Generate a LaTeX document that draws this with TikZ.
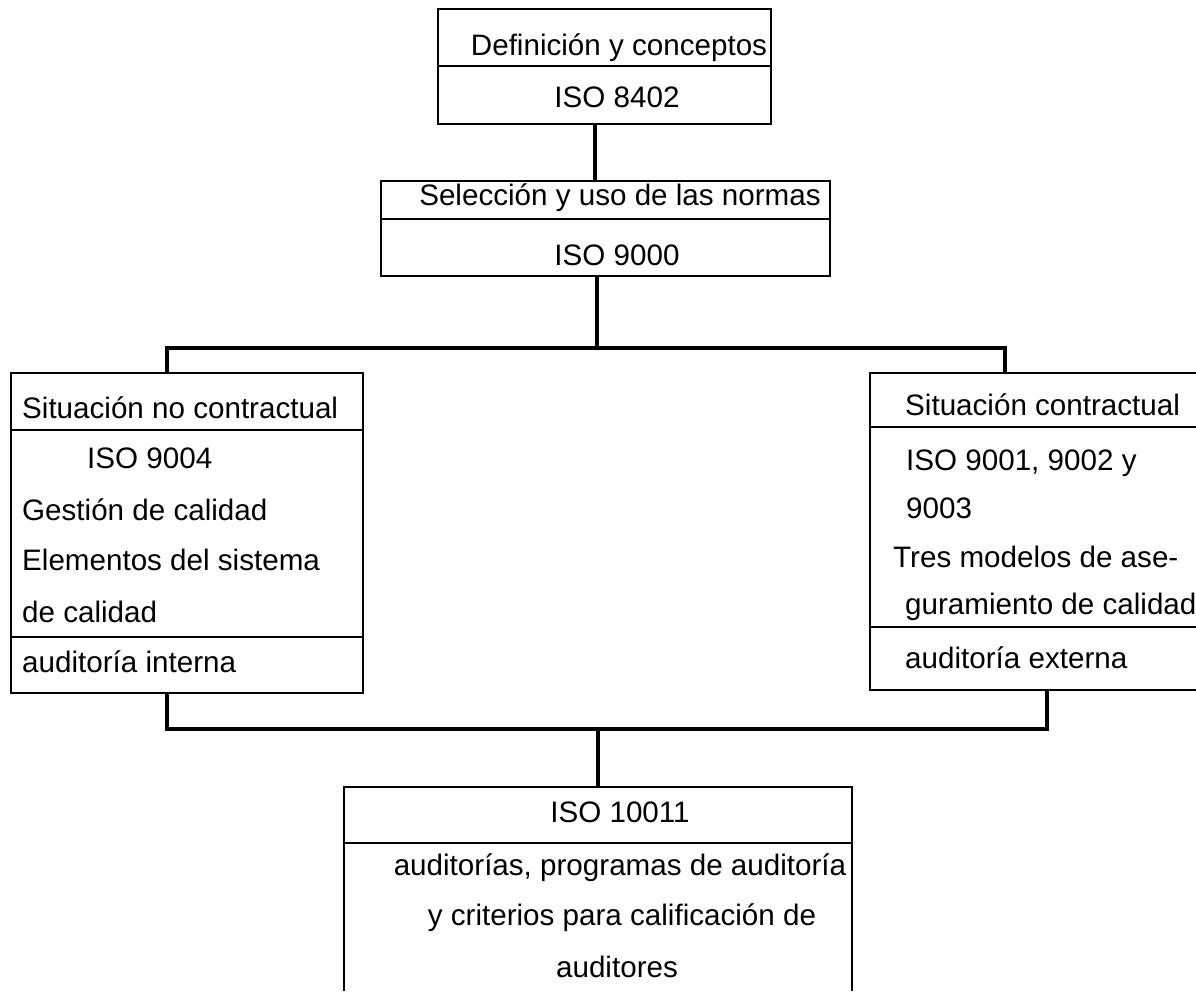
\documentclass[tikz,border=0pt]{standalone}
\usepackage{fontspec}
\setmainfont{Liberation Sans}
\begin{document}
\begin{tikzpicture}[x=1pt,y=-1pt,
  box/.style={draw=black, line width=2pt, rectangle, inner sep=0pt},
  openbox/.style={rectangle, inner sep=0pt},
  divider/.style={line width=1.6pt},
  conn/.style={line width=4.5pt, line cap=butt},
  txt/.style={inner sep=0pt, font=\fontsize{29.6}{35}\selectfont}]
\useasboundingbox (0,0) rectangle (1196,991);

% boxes
\node[box, minimum width=333pt, minimum height=115pt] (def) at (604.5,66.5) {};
\node[box, minimum width=449pt, minimum height=95pt]  (sel) at (605.5,228.5) {};
\node[box, minimum width=352pt, minimum height=320pt] (nc)  at (187,533) {};
\node[openbox, minimum width=326pt, minimum height=317pt] (ct) at (1033,531.5) {};
\node[openbox, minimum width=508pt, minimum height=204pt] (aud) at (598,889) {};

% open outlines
\draw[line width=2pt] (ct.north east) -- (ct.north west) -- (ct.south west) -- (ct.south east);
\draw[line width=2pt] (aud.south west) -- (aud.north west) -- (aud.north east) -- (aud.south east);

% dividers
\draw[divider] (def.west |- 0,66) -- (def.east |- 0,66);
\draw[divider] (sel.west |- 0,219) -- (sel.east |- 0,219);
\draw[divider] (nc.west |- 0,430) -- (nc.east |- 0,430);
\draw[divider] (nc.west |- 0,637) -- (nc.east |- 0,637);
\draw[divider] (ct.west |- 0,427) -- (ct.east |- 0,427);
\draw[divider] (ct.west |- 0,627) -- (ct.east |- 0,627);
\draw[divider] (aud.west |- 0,843) -- (aud.east |- 0,843);

% junction points
\coordinate (c1) at (595,0);
\coordinate (c2) at (597,348);
\coordinate (barL) at (167,348);
\coordinate (barR) at (1005,348);
\coordinate (c3) at (598,729);
\coordinate (lowL) at (167,729);
\coordinate (lowR) at (1047,729);

% connectors
\draw[conn] (def.south -| c1) -- (sel.north -| c1);
\draw[conn] (sel.south -| c2) -- (c2);
\draw[conn] (nc.north -| barL) -- (barL) -- (barR) -- (ct.north -| barR);
\draw[conn] (nc.south -| lowL) -- (lowL) -- (lowR) -- (ct.south -| lowR);
\draw[conn] (c3) -- (aud.north -| c3);

% texts
\node[txt, anchor=base] (t1) at (619,55) {Definición y conceptos};
\node[txt, anchor=base] (t2) at (617,107) {ISO 8402};
\node[txt, anchor=base] (t3) at (620,205) {Selección y uso de las normas};
\node[txt, anchor=base] (t4) at (617,265) {ISO 9000};

\node[txt, anchor=base west] (l1) at (22,418) {Situación no contractual};
\node[txt, anchor=base west] (l2) at (87,468) {ISO 9004};
\node[txt, anchor=base west] (l3) at (22,520) {Gestión de calidad};
\node[txt, anchor=base west] (l4) at (22,570) {Elementos del sistema};
\node[txt, anchor=base west] (l5) at (22,622) {de calidad};
\node[txt, anchor=base west] (l6) at (22,672) {auditoría interna};

\node[txt, anchor=base west] (r1) at (905,415) {Situación contractual};
\node[txt, anchor=base west] (r2) at (906,470) {ISO 9001, 9002 y};
\node[txt, anchor=base west] (r3) at (906,518) {9003};
\node[txt, anchor=base west] (r4) at (893,567) {Tres modelos de ase-};
\node[txt, anchor=base west] (r5) at (905,614) {guramiento de calidad};
\node[txt, anchor=base west] (r6) at (905,668) {auditoría externa};

\node[txt, anchor=base] (b1) at (620,822) {ISO 10011};
\node[txt, anchor=base] (b2) at (620,875) {auditorías, programas de auditoría};
\node[txt, anchor=base] (b3) at (622,925) {y criterios para calificación de};
\node[txt, anchor=base] (b4) at (617,977) {auditores};
\end{tikzpicture}
\end{document}
